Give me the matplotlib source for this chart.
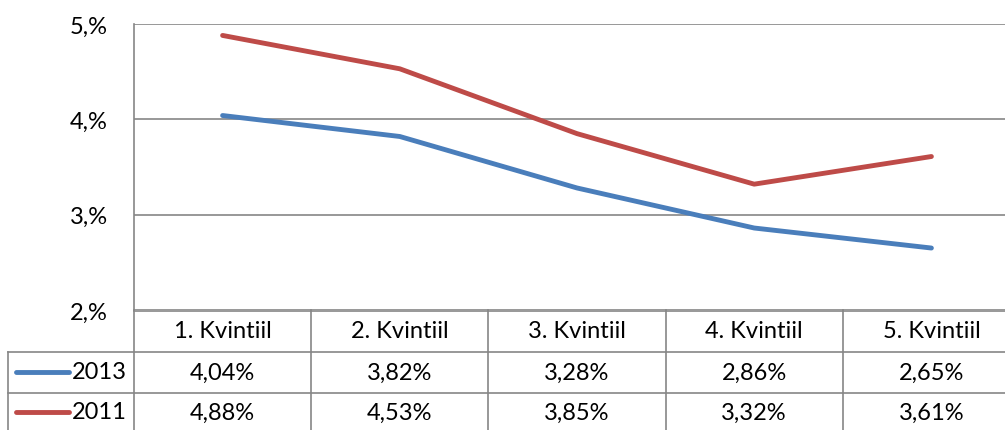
import matplotlib
matplotlib.use('Agg')
import matplotlib.pyplot as plt
from matplotlib.lines import Line2D
from matplotlib import transforms

# Data
categories = ['1. Kvintiil', '2. Kvintiil', '3. Kvintiil', '4. Kvintiil', '5. Kvintiil']
series_names = ['2013', '2011']
values_2013 = [4.04, 3.82, 3.28, 2.86, 2.65]
values_2011 = [4.88, 4.53, 3.85, 3.32, 3.61]
y_ticks = [2, 3, 4, 5]
y_labels = ['2,%', '3,%', '4,%', '5,%']

colors = ['#4A7EBB', '#BE4B48']
grid_col = '#868686'
fs = 17

plt.rcParams['font.family'] = ['Lato', 'DejaVu Sans']

W, H = 1005, 431
fig = plt.figure(figsize=(W / 100, H / 100), dpi=100)

def fx(px):
    return px / W

def fy(py):
    return 1 - py / H

# plot area (cropped on the right like the original)
ax = fig.add_axes([fx(134), fy(311), fx(886), 286 / H])
x = list(range(len(categories)))
for vals, c in zip([values_2013, values_2011], colors):
    ax.plot(x, vals, color=c, lw=3.5, solid_capstyle='round', solid_joinstyle='round', zorder=3)

ax.set_xlim(-0.5, len(categories) - 0.5)
ax.set_ylim(2, 5)
ax.set_yticks(y_ticks)
ax.set_yticklabels(y_labels, fontsize=fs)
ax.set_xticks([])
ax.tick_params(axis='y', length=0, pad=19)
for s in ['top', 'right', 'bottom']:
    ax.spines[s].set_visible(False)
ax.spines['left'].set_color(grid_col)
ax.spines['left'].set_linewidth(1.2)
ax.grid(axis='y', color=grid_col, lw=1.2)
ax.set_axisbelow(True)

# data table below the plot
tr = transforms.blended_transform_factory(ax.transData, fig.transFigure)

def hline(x0, x1, py):
    fig.add_artist(Line2D([fx(x0), fx(x1)], [fy(py), fy(py)], color=grid_col, lw=1.2))

def vline(px, py0, py1):
    fig.add_artist(Line2D([fx(px), fx(px)], [fy(py0), fy(py1)], color=grid_col, lw=1.2))

hline(134, W, 311.5)
hline(8, W, 352.5)
hline(8, W, 394)
vline(8, 352.5, H)
vline(134, 311, H)
for i in range(1, len(categories)):
    xb = i - 0.5
    fig.add_artist(Line2D([xb, xb], [fy(311), 0], color=grid_col, lw=1.2, transform=tr))

for i, cat in enumerate(categories):
    fig.text(i, fy(332), cat, transform=tr, ha='center', va='center', fontsize=fs)

row_y = [373, 413]
for name, vals, c, py in zip(series_names, [values_2013, values_2011], colors, row_y):
    fig.add_artist(Line2D([fx(16), fx(69)], [fy(py), fy(py)], color=c, lw=3.5,
                          solid_capstyle='round'))
    fig.text(fx(72), fy(py), name, ha='left', va='center', fontsize=fs)
    for i, v in enumerate(vals):
        fig.text(i, fy(py), f'{v:.2f}%'.replace('.', ','), transform=tr,
                 ha='center', va='center', fontsize=fs)

fig.savefig('out.png', dpi=100, facecolor='white')
